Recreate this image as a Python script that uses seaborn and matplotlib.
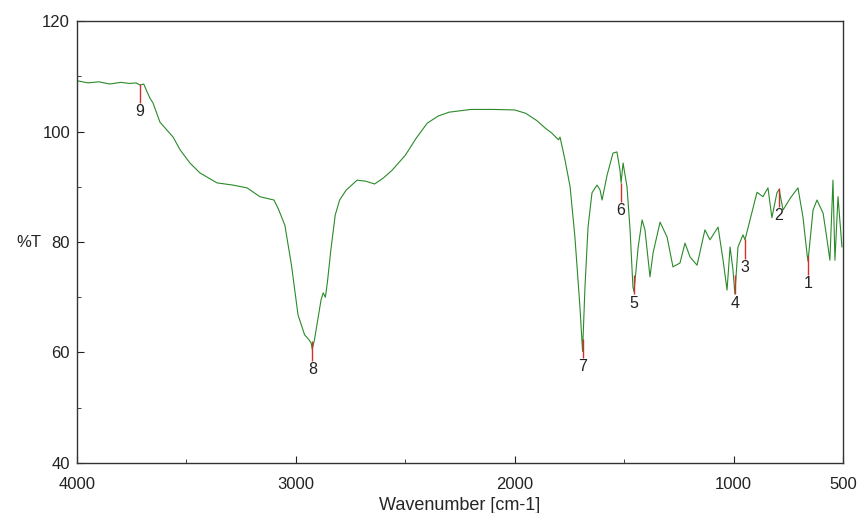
# Espectro IR (%T frente a número de onda) con picos marcados
import matplotlib
matplotlib.use("Agg")
import matplotlib.pyplot as plt
import seaborn as sns
import pandas as pd
from matplotlib.ticker import MultipleLocator, FixedLocator

# Número de onda (cm-1)
numero_onda = [4000, 3950, 3900, 3850, 3800, 3760, 3730, 3712, 3695, 3680, 3666, 3653,
               3621, 3561, 3529, 3484, 3438, 3360, 3287, 3223, 3164, 3100, 3080, 3050,
               3020, 2990, 2960, 2940, 2930, 2925, 2915, 2900, 2885, 2875, 2865, 2855,
               2840, 2820, 2800, 2770, 2720, 2680, 2640, 2600, 2560, 2500, 2450, 2400,
               2350, 2300, 2200, 2100, 2000, 1950, 1900, 1860, 1830, 1800, 1793, 1770,
               1747, 1725, 1702, 1690, 1679, 1665, 1647, 1624, 1610, 1601, 1578, 1551,
               1533, 1519, 1514, 1505, 1487, 1473, 1460, 1455, 1436, 1418, 1405, 1382,
               1368, 1336, 1304, 1277, 1245, 1222, 1199, 1167, 1131, 1108, 1071, 1048,
               1030, 1016, 1003, 994, 980, 957, 948, 925, 893, 866, 843, 825, 802, 792,
               774, 740, 706, 683, 665, 660, 637, 619, 591, 573, 560, 546, 537, 523, 505]
# Transmitancia (%T)
transmitancia = [109.2, 108.8, 109.0, 108.6, 108.9, 108.7, 108.8, 108.4, 108.6, 107.2, 106.0, 105.2,
                 101.7, 99.0, 96.7, 94.3, 92.5, 90.7, 90.3, 89.8, 88.2, 87.6, 86.0, 83.0,
                 75.8, 66.8, 63.2, 62.3, 61.7, 60.6, 62.3, 65.9, 69.5, 70.8, 70.0, 73.0,
                 78.6, 84.9, 87.6, 89.4, 91.2, 91.0, 90.5, 91.6, 93.0, 95.7, 98.8, 101.5,
                 102.8, 103.5, 104.0, 104.0, 103.9, 103.3, 102.0, 100.6, 99.7, 98.5, 99.0, 94.8,
                 90.0, 80.9, 68.2, 60.2, 71.9, 82.7, 88.9, 90.3, 89.4, 87.6, 92.1, 96.1,
                 96.3, 93.0, 90.7, 94.3, 90.0, 82.2, 71.9, 71.0, 79.1, 84.0, 82.2, 73.7,
                 78.0, 83.6, 80.9, 75.5, 76.2, 79.8, 77.3, 75.8, 82.2, 80.4, 82.7, 76.7,
                 71.3, 79.1, 75.0, 70.6, 79.1, 81.3, 80.4, 84.0, 89.0, 88.2, 89.8, 84.4, 88.9, 89.5,
                 85.8, 88.0, 89.8, 84.5, 78.0, 76.5, 85.8, 87.6, 85.2, 80.4, 76.7, 91.2, 76.7, 88.2, 79.1]

# Picos etiquetados
picos_onda = [660, 792, 948, 994, 1455, 1514, 1690, 2925, 3712]
picos_t = [77.5, 89.8, 80.5, 74.0, 74.0, 90.7, 62.5, 62.0, 108.6]
picos_etiqueta = ["1", "2", "3", "4", "5", "6", "7", "8", "9"]

df = pd.DataFrame({"onda": numero_onda, "t": transmitancia})

sns.set_style("ticks")
plt.rcParams["font.family"] = ["Liberation Sans", "DejaVu Sans"]

fig = plt.figure(figsize=(8.62, 5.13), dpi=100)
ax = fig.add_axes([0.0893, 0.0975, 0.8887, 0.8615])

sns.lineplot(data=df, x="onda", y="t", sort=False, color="#2a8a2a", linewidth=0.8, ax=ax)

# Marcas rojas y números de los picos
for w, t, lab in zip(picos_onda, picos_t, picos_etiqueta):
    ax.vlines(w, t - 3.5, t, color="#d0312d", linewidth=1.0)
    ax.text(w, t - 3.7, lab, ha="center", va="top", fontsize=11.5, color="#222222")

ax.set_xlim(4000, 500)
ax.set_ylim(40, 120)
ax.xaxis.set_major_locator(FixedLocator([4000, 3000, 2000, 1000, 500]))
ax.xaxis.set_minor_locator(FixedLocator([3500, 2500, 1500]))
ax.yaxis.set_major_locator(MultipleLocator(20))
ax.yaxis.set_minor_locator(MultipleLocator(10))
ax.tick_params(which="both", direction="in", labelsize=12, colors="#222222")
ax.tick_params(axis="x", pad=10)
ax.tick_params(axis="y", pad=5)
ax.tick_params(which="major", length=5)
ax.tick_params(which="minor", length=3)
for s in ax.spines.values():
    s.set_color("#333333")
    s.set_linewidth(1.0)

ax.set_xlabel("Wavenumber [cm-1]", fontsize=13)
ax.xaxis.set_label_coords(0.5, -0.078)
ax.set_ylabel("%T", rotation=0, fontsize=12, ha="center", va="center")
ax.yaxis.set_label_coords(-0.063, 0.5)

fig.savefig("out.png", dpi=100)
